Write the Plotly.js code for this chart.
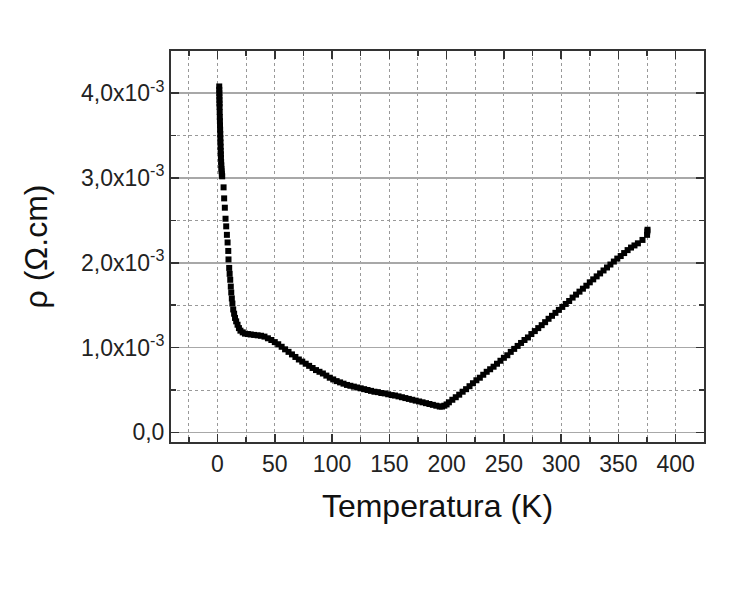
<!DOCTYPE html>
<html>
<head>
<meta charset="utf-8">
<script src="https://cdn.plot.ly/plotly-3.0.1.min.js"></script>
<style>html,body{margin:0;padding:0;background:#fff;}#chart{width:748px;height:589px;}</style>
</head>
<body>
<div id="chart"></div>
<script>
// Temperature (K)
const temperature = [
  1.5,1.55,1.6,1.65,1.7,1.75,1.8,1.9,2.0,2.1,2.2,2.3,2.4,2.5,2.6,2.7,2.8,2.9,3.0,3.15,3.3,3.45,3.6,3.75,3.9,4.1,
  5.3,5.8,6.4,7.0,7.6,8.2,8.8,9.4,9.6,10.2,
  10.6,11.1,11.6,12.0,12.5,13.0,13.7,14.5,15.3,16.3,17.5,18.7,20,22,24,26.5,29,32,35,38,41,44,47,50,
  53,56,59,62,65,68,71,74,77,80,83,86,89,92,95,98,101,104,107,110,113,116,119,122,125,128,131,134,137,140,
  143,146,149,152,155,158,161,164,167,170,173,176,179,182,185,188,191,194,196,198,200,202,205,208,211,214,
  217,220,223,226,229,232,235,238,241,244,247,250,253,256,259,262,265,268,271,274,277,280,283,286,289,292,
  295,298,301,304,307,310,313,316,319,322,325,328,331,334,337,340,343,346,349,352,355,358,361,364,367,371,
  375,375.2,375.4
];
// Resistivity (x10^-3 Ohm.cm)
const resistivity = [
  4.08,4.04,4.00,3.96,3.92,3.88,3.84,3.78,3.72,3.67,3.62,3.57,3.52,3.47,3.42,3.37,3.32,3.28,3.24,3.19,3.15,3.11,3.08,3.05,3.03,3.02,
  2.89,2.76,2.65,2.52,2.43,2.33,2.24,2.14,2.04,1.94,
  1.87,1.80,1.72,1.65,1.58,1.52,1.45,1.40,1.35,1.31,1.27,1.23,1.20,1.18,1.165,1.16,1.155,1.15,1.145,1.14,1.13,1.11,1.09,1.065,
  1.04,1.01,0.98,0.95,0.92,0.89,0.86,0.835,0.81,0.785,0.76,0.735,0.715,0.695,0.67,0.645,0.625,0.605,0.59,0.575,0.56,0.55,0.54,0.53,0.52,0.51,0.50,0.49,0.48,0.475,
  0.465,0.46,0.45,0.44,0.435,0.425,0.415,0.405,0.395,0.385,0.375,0.365,0.355,0.345,0.335,0.325,0.315,0.305,0.305,0.315,0.33,0.355,0.385,0.415,0.445,0.48,
  0.51,0.545,0.58,0.615,0.645,0.68,0.715,0.745,0.775,0.81,0.845,0.88,0.91,0.95,0.985,1.02,1.055,1.09,1.12,1.16,1.195,1.23,1.265,1.30,1.34,1.375,
  1.41,1.445,1.48,1.515,1.55,1.59,1.625,1.66,1.695,1.73,1.77,1.805,1.84,1.875,1.91,1.945,1.98,2.015,2.05,2.08,2.115,2.15,2.18,2.205,2.23,2.27,
  2.33,2.37,2.39
];
const xTickVals = [0,50,100,150,200,250,300,350,400];
const xTickText = ["0","50","100","150","200","250","300","350","400"];
const yTickVals = [0,1e-3,2e-3,3e-3,4e-3];
const yTickText = ["0,0","1,0x10<sup>-3</sup>","2,0x10<sup>-3</sup>","3,0x10<sup>-3</sup>","4,0x10<sup>-3</sup>"];

const rho = resistivity.map(v => v * 1e-3);
const font = "Arial, 'Liberation Sans', sans-serif";

const trace = {
  x: temperature, y: rho, type: "scatter", mode: "markers",
  marker: {symbol: "square", size: 6, color: "#000", line: {width: 0}},
  hoverinfo: "skip"
};

const axisCommon = {
  showline: true, linecolor: "#333", linewidth: 2, mirror: "allticks",
  ticks: "inside", ticklen: 8, tickwidth: 1.5, tickcolor: "#333",
  zeroline: false, showgrid: true, gridcolor: "#999",
  tickfont: {family: font, size: 23, color: "#222"}
};

const layout = {
  width: 748, height: 589,
  margin: {l: 171, r: 44, t: 51, b: 147},
  paper_bgcolor: "#fff", plot_bgcolor: "#fff",
  showlegend: false,
  xaxis: Object.assign({}, axisCommon, {
    range: [-40.6, 424.7],
    tickmode: "array", tickvals: xTickVals, ticktext: xTickText,
    griddash: "dot", gridwidth: 1,
    minor: {dtick: 25, tick0: 0, ticks: "inside", ticklen: 5, tickwidth: 1.5, tickcolor: "#333",
            showgrid: true, gridcolor: "#999", griddash: "dot", gridwidth: 1},
    title: {text: "Temperatura (K)", font: {family: font, size: 32, color: "#111"}, standoff: 19}
  }),
  yaxis: Object.assign({}, axisCommon, {
    range: [-0.113e-3, 4.498e-3],
    tickmode: "array", tickvals: yTickVals, ticktext: yTickText,
    griddash: "solid", gridwidth: 1.5, gridcolor: "#a8a8a8",
    minor: {dtick: 0.5e-3, tick0: 0, ticks: "inside", ticklen: 5, tickwidth: 1.5, tickcolor: "#333",
            showgrid: true, gridcolor: "#999", griddash: "dot", gridwidth: 1},
    title: {text: "ρ (Ω.cm)", font: {family: font, size: 32, color: "#111"}, standoff: 24}
  })
};

Plotly.newPlot("chart", [trace], layout, {displayModeBar: false, staticPlot: true});
</script>
</body>
</html>
